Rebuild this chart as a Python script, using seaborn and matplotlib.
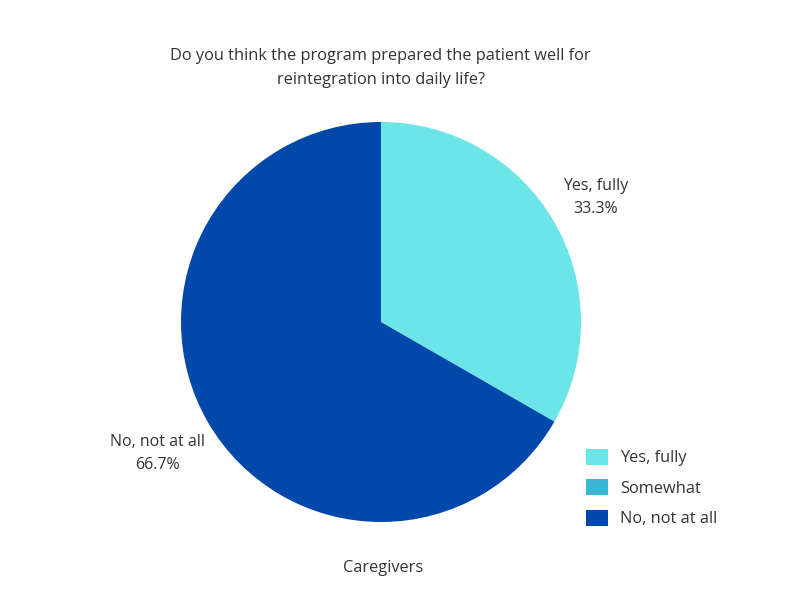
import numpy as np
import matplotlib
matplotlib.use("Agg")
import matplotlib.pyplot as plt
import seaborn as sns
from matplotlib.patches import Patch

categories = ["Yes, fully", "Somewhat", "No, not at all"]
values = [33.3, 0.0, 66.7]
colors = ["#6CE5E8", "#3AB7D3", "#0048AA"]
title = "Do you think the program prepared the patient well for\nreintegration into daily life?"
xlabel = "Caregivers"

sns.set_theme(style="white")
plt.rcParams["font.family"] = ["Open Sans", "DejaVu Sans"]
text_color = "#333333"

fig = plt.figure(figsize=(8, 6), dpi=100)
fig.patch.set_facecolor("white")
ax = fig.add_axes([0.22625, 0.13, 0.5, 0.6667])
wedges, _ = ax.pie(values, colors=colors, startangle=90, counterclock=False,
                   radius=1.0, wedgeprops=dict(linewidth=0))
ax.set_xlim(-1, 1)
ax.set_ylim(-1, 1)
ax.set_aspect("equal")
ax.axis("off")

for w, cat, v in zip(wedges, categories, values):
    if v <= 0:
        continue
    mid = np.deg2rad((w.theta1 + w.theta2) / 2)
    r = 1.25
    x, y = r * np.cos(mid), r * np.sin(mid)
    if x < 0:
        x -= 0.035
        y -= 0.03
    else:
        x -= 0.01
        y -= 0.005
    ax.text(x, y, f"{cat}\n{v:.1f}%", ha="center", va="center",
            fontsize=11.5, color=text_color, linespacing=1.55, clip_on=False)

fig.text(0.476, 0.887, title, ha="center", va="center", fontsize=11.8,
         color=text_color, linespacing=1.7)
fig.text(0.479, 0.053, xlabel, ha="center", va="center", fontsize=11.8,
         color=text_color)

handles = [Patch(facecolor=c, edgecolor="none") for c in colors]
fig.legend(handles, categories, loc="upper left", bbox_to_anchor=(0.732, 0.252),
           frameon=False, fontsize=11.8, handlelength=1.35, handleheight=1.1,
           labelspacing=0.8, handletextpad=0.75, labelcolor=text_color,
           borderaxespad=0, borderpad=0)

fig.savefig("out.png", dpi=100, facecolor="white")
